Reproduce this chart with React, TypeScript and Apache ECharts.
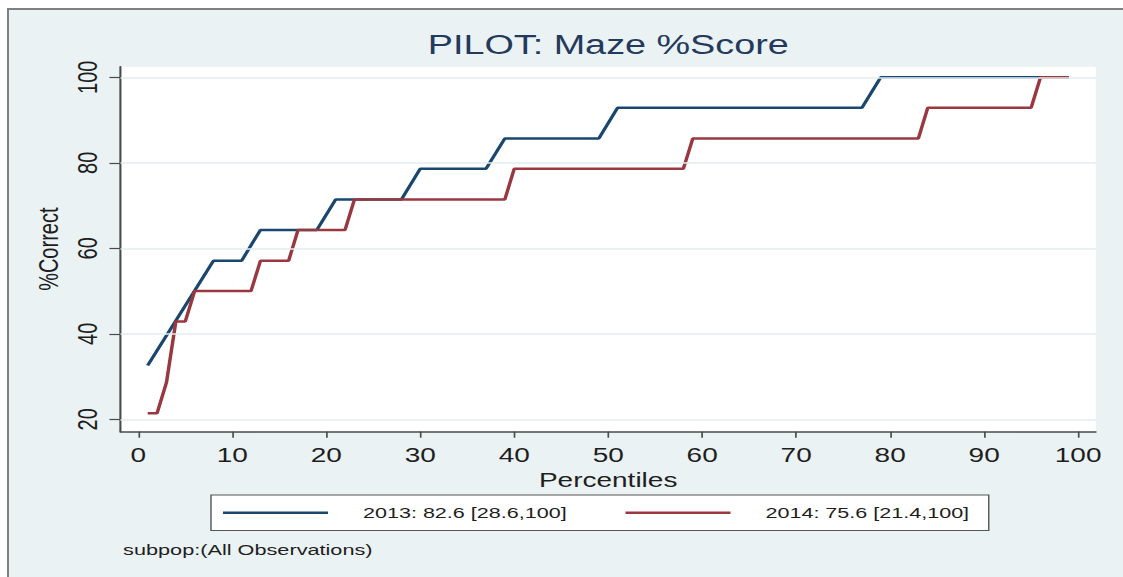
import React, { useEffect, useRef } from "react";
import * as echarts from "echarts";

// Horizontal stretch of the original picture
const S = 1.4;
const W = 1123 / S;
const H = 577;

const FONT = "'Liberation Sans', Arial, Helvetica, sans-serif";

const titleText = "PILOT: Maze %Score";
const xAxisTitle = "Percentiles";
const yAxisTitle = "%Correct";
const noteText = "subpop:(All Observations)";

const xTicks = [0, 10, 20, 30, 40, 50, 60, 70, 80, 90, 100];
const yTicks = [20, 40, 60, 80, 100];

const name2013 = "2013: 82.6 [28.6,100]";
const pct2013 = [1, 8, 11, 13, 19, 21, 28, 30, 37, 39, 49, 51, 77, 79, 99];
const score2013 = [32.6, 57.1, 57.1, 64.3, 64.3, 71.4, 71.4, 78.6, 78.6, 85.7, 85.7, 92.9, 92.9, 100, 100];

const name2014 = "2014: 75.6 [21.4,100]";
const pct2014 = [1, 2, 3, 4, 5, 6, 12, 13, 16, 17, 22, 23, 39, 40, 58, 59, 83, 84, 95, 96, 99];
const score2014 = [21.4, 21.4, 28.6, 42.9, 42.9, 50, 50, 57.1, 57.1, 64.3, 64.3, 71.4, 71.4, 78.6, 78.6, 85.7, 85.7, 92.9, 92.9, 100, 100];

const COLOR_2013 = "#1a476f";
const COLOR_2014 = "#9a3840";

export default function App() {
  const ref = useRef<HTMLDivElement>(null);

  useEffect(() => {
    if (!ref.current) return;
    document.documentElement.style.overflow = "hidden";
    document.body.style.overflow = "hidden";
    document.body.style.margin = "0";
    const chart = echarts.init(ref.current, null, { renderer: "svg" });
    const gridLeft = 120.5 / S;
    const gridRight = W - 1096 / S;
    const gridTop = 66.7;
    const gridBottom = H - 431.7;
    const gridCenter = gridLeft + (W - gridRight - gridLeft) / 2;

    chart.setOption({
      animation: false,
      backgroundColor: "transparent",
      textStyle: { fontFamily: FONT },
      title: [
        {
          text: titleText,
          left: gridCenter - 5,
          textAlign: "center",
          top: 26,
          textStyle: { fontFamily: FONT, fontSize: 27, fontWeight: "normal", color: "#243a5c" },
        },
        {
          text: noteText,
          left: 87.9 - 5,
          top: 542 - 5,
          textStyle: { fontFamily: FONT, fontSize: 15.5, fontWeight: "normal", color: "#1e1e1e" },
        },
      ],
      legend: {
        data: [
          { name: name2013, icon: "rect" },
          { name: name2014, icon: "rect" },
        ],
        left: 150.7,
        top: 495,
        orient: "horizontal",
        itemWidth: 75,
        itemHeight: 2.5,
        itemGap: 42,
        padding: [10.3, 14, 10.3, 8.6],
        backgroundColor: "#ffffff",
        borderColor: "#555",
        borderWidth: 1,
        borderRadius: 0,
        selectedMode: false,
        textStyle: { fontFamily: FONT, fontSize: 15.4, color: "#1e1e1e", padding: [0, 0, 0, 20] },
      },
      grid: {
        left: gridLeft,
        right: gridRight,
        top: gridTop,
        bottom: gridBottom,
        show: true,
        backgroundColor: "#ffffff",
        borderWidth: 0,
        containLabel: false,
      },
      xAxis: {
        type: "value",
        min: -1.89,
        max: 101.88,
        name: xAxisTitle,
        nameLocation: "middle",
        nameGap: 30.5,
        nameTextStyle: { fontFamily: FONT, fontSize: 20, color: "#1e1e1e" },
        axisLine: { show: true, onZero: false, lineStyle: { color: "#4a4a4a", width: 1.5 } },
        axisTick: { show: true, length: 6, customValues: xTicks, lineStyle: { color: "#4a4a4a", width: 1.2 } },
        axisLabel: { show: true, customValues: xTicks, margin: 13, fontFamily: FONT, fontSize: 20, color: "#1e1e1e" },
        splitLine: { show: false },
      },
      yAxis: {
        type: "value",
        min: 17.1,
        max: 102.48,
        name: yAxisTitle,
        nameLocation: "middle",
        nameGap: 38.5,
        nameTextStyle: { fontFamily: FONT, fontSize: 20, color: "#1e1e1e" },
        axisLine: { show: true, onZero: false, lineStyle: { color: "#4a4a4a", width: 1.5 } },
        axisTick: { show: true, length: 7.9, customValues: yTicks, lineStyle: { color: "#4a4a4a", width: 1.2 } },
        axisLabel: { show: true, customValues: yTicks, rotate: 90, margin: 14, fontFamily: FONT, fontSize: 20, color: "#1e1e1e" },
        splitLine: { show: false },
      },
      series: [
        {
          type: "line",
          name: "gridlines",
          data: [],
          z: 1,
          silent: true,
          markLine: {
            silent: true,
            symbol: ["none", "none"],
            label: { show: false },
            lineStyle: { color: "#e3edef", width: 1.5, type: "solid" },
            data: yTicks.map((v) => ({ yAxis: v })),
          },
        },
        {
          type: "line",
          name: name2013,
          z: 3,
          data: pct2013.map((p, i) => [p, score2013[i]]),
          showSymbol: false,
          symbol: "none",
          color: COLOR_2013,
          lineStyle: { color: COLOR_2013, width: 2.5 },
        },
        {
          type: "line",
          name: name2014,
          z: 4,
          data: pct2014.map((p, i) => [p, score2014[i]]),
          showSymbol: false,
          symbol: "none",
          color: COLOR_2014,
          lineStyle: { color: COLOR_2014, width: 2.5 },
        },
      ],
    });
    return () => chart.dispose();
  }, []);

  return (
    <div style={{ position: "fixed", left: 0, top: 0, width: 1123, height: 577, overflow: "hidden", background: "#ffffff" }}>
      <div
        style={{
          position: "absolute",
          left: 7,
          top: 8,
          right: -10,
          bottom: -10,
          background: "#eaf2f3",
          borderTop: "2px solid #7f7f7f",
          borderLeft: "2px solid #7f7f7f",
        }}
      />
      <div
        ref={ref}
        style={{ position: "absolute", left: 0, top: 0, width: W, height: H, transform: `scaleX(${S})`, transformOrigin: "0 0" }}
      />
    </div>
  );
}
